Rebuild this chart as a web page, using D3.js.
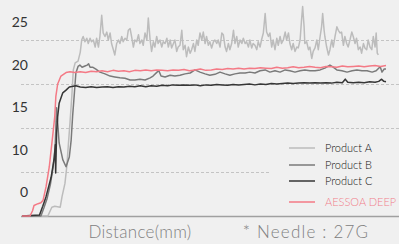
<!DOCTYPE html>
<html>
<head>
<meta charset="utf-8">
<script src="https://cdn.jsdelivr.net/npm/d3@7"></script>
<style>
  html, body { margin: 0; padding: 0; background: #f0f0f0; }
  svg { display: block; font-family: 'Lato', 'Noto Sans', sans-serif; }
</style>
</head>
<body>
<div id="chart"></div>
<script>
// y values are in grid units (one dashed gridline every 5)
const tickLabels = ['0', '10', '15', '20', '25'];
const gridValues = [5, 10, 15, 20];

const seriesNames = ['Product A', 'Product B', 'Product C', 'AESSOA DEEP'];

// [distance (mm), value]
const productA = [
  [0, 0], [7.1, 0], [8.2, 1.0], [9.0, 1.1], [10.5, 1.0], [11.0, 2.2], [11.8, 3.7], [12.3, 5.6],
  [12.7, 7.9], [13.2, 10.7], [13.7, 13.7], [14.1, 16.6], [14.6, 17.4], [15.4, 17.6], [16.0, 18.6],
  [16.4, 20.0], [16.8, 20.4], [17.3, 19.8], [17.8, 20.2], [18.2, 19.6], [18.7, 20.2], [19.1, 19.8],
  [19.6, 20.0], [20.1, 19.2], [20.5, 20.2], [21.0, 19.2], [21.4, 20.4], [21.9, 22.8], [22.3, 20.8],
  [22.8, 20.4], [23.3, 20.9], [23.7, 20.0], [24.2, 20.8], [24.6, 19.6], [25.1, 18.9], [25.5, 18.3],
  [26.0, 19.6], [26.5, 20.0], [26.9, 19.6], [27.4, 20.4], [27.8, 19.8], [28.3, 20.2], [28.8, 20.0],
  [29.2, 21.1], [29.7, 21.3], [30.1, 20.4], [30.6, 19.2], [31.0, 20.0], [31.5, 19.8], [32.0, 20.6],
  [32.4, 19.6], [32.9, 20.0], [33.3, 19.4], [33.8, 20.8], [34.3, 20.0], [34.7, 22.5], [35.2, 20.0],
  [35.6, 18.7], [36.1, 19.8], [36.5, 19.2], [37.0, 20.4], [37.4, 19.6], [37.9, 20.0], [38.4, 19.2],
  [38.8, 19.8], [39.3, 19.6], [39.8, 20.2], [40.2, 19.2], [40.7, 20.0], [41.1, 19.1], [41.6, 19.6],
  [42.0, 20.0], [42.5, 18.7], [42.9, 19.2], [43.4, 19.4], [43.9, 21.1], [44.3, 18.9], [44.8, 19.4],
  [45.2, 18.1], [45.7, 19.2], [46.2, 18.5], [46.6, 18.9], [47.1, 19.6], [47.5, 18.7], [48.0, 20.0],
  [48.4, 19.4], [48.9, 20.8], [49.4, 20.0], [49.8, 20.9], [50.3, 19.6], [50.7, 20.4], [51.2, 19.4],
  [51.6, 19.8], [52.1, 19.1], [52.6, 19.8], [53.0, 20.0], [53.5, 19.6], [53.9, 20.0], [54.4, 19.2],
  [54.9, 20.8], [55.3, 20.6], [55.8, 19.2], [56.2, 18.7], [56.7, 19.6], [57.1, 18.9], [57.6, 19.6],
  [58.1, 21.1], [58.5, 19.6], [59.0, 20.4], [59.4, 19.2], [59.9, 20.0], [60.4, 19.6], [60.8, 20.2],
  [61.3, 19.6], [61.7, 19.8], [62.2, 19.2], [62.6, 20.0], [63.1, 19.1], [63.5, 19.6], [64.0, 19.4],
  [64.5, 18.9], [64.9, 19.8], [65.4, 19.2], [65.8, 20.0], [66.3, 20.8], [66.8, 23.0], [67.2, 20.9],
  [67.7, 20.4], [68.1, 20.8], [68.6, 19.2], [69.0, 20.0], [69.5, 18.9], [70.0, 20.2], [70.4, 19.4],
  [70.9, 20.4], [71.3, 19.6], [71.8, 20.0], [72.3, 20.9], [72.7, 20.0], [73.2, 20.8], [73.6, 19.6],
  [74.1, 18.9], [74.5, 19.6], [75.0, 18.7], [75.5, 19.2], [75.9, 19.1], [76.4, 20.0], [76.8, 22.3],
  [77.1, 23.8], [77.5, 21.5], [77.7, 19.6], [78.2, 19.8], [78.7, 18.9], [79.1, 19.2], [79.6, 17.9],
  [80.0, 18.7], [80.5, 19.1], [81.0, 20.0], [81.4, 18.9], [81.9, 20.4], [82.3, 21.5], [82.6, 23.0],
  [83.0, 21.1], [83.2, 20.4], [83.7, 19.2], [84.2, 18.3], [84.6, 18.9], [85.1, 20.0], [85.5, 19.2],
  [86.0, 20.4], [86.5, 21.5], [86.9, 21.1], [87.4, 20.8], [87.8, 20.9], [88.3, 19.4], [88.7, 20.4],
  [89.2, 19.6], [89.6, 19.2], [90.1, 20.0], [90.6, 20.9], [91.0, 20.4], [91.5, 19.6], [91.9, 20.2],
  [92.4, 18.9], [92.9, 19.2], [93.3, 18.5], [93.8, 19.6], [94.2, 19.1], [94.7, 18.9], [95.1, 20.0],
  [95.6, 19.2], [96.1, 18.9], [96.5, 20.4], [97.0, 19.2], [97.3, 20.8], [97.6, 18.5], [97.9, 18.3]
];

const productB = [
  [0, 0], [5.2, 0], [6.0, 0.9], [6.9, 2.0], [7.8, 3.6], [8.6, 5.7], [9.1, 7.8], [9.3, 10.0],
  [9.5, 12.3], [10.2, 8.3], [11.2, 6.4], [12.1, 5.6], [13.0, 6.7], [13.5, 8.6], [13.9, 11.3],
  [14.4, 14.0], [14.8, 16.25], [15.4, 17.0], [15.9, 17.15], [16.5, 16.9], [17.3, 17.05], [17.9, 17.15],
  [18.3, 17.3], [18.7, 16.9], [19.5, 16.9], [20.3, 16.7], [21.4, 16.35], [22.8, 16.15], [24.2, 15.9],
  [25.5, 15.8], [26.9, 15.7], [28.3, 15.65], [29.7, 15.45], [31.0, 15.45], [32.4, 15.55], [33.8, 15.45],
  [35.2, 15.7], [36.0, 15.9], [37.1, 16.35], [37.6, 16.5], [38.2, 15.9], [39.3, 15.8], [40.7, 16.0],
  [42.0, 15.9], [43.4, 16.0], [44.8, 16.15], [46.2, 16.25], [47.5, 16.6], [48.9, 16.35], [50.3, 16.15],
  [51.6, 16.0], [53.0, 16.1], [54.4, 16.35], [55.8, 16.15], [57.1, 16.0], [58.5, 16.15], [59.9, 16.25],
  [61.3, 16.25], [62.6, 16.35], [64.0, 16.25], [65.4, 16.5], [66.8, 16.6], [68.1, 16.35], [69.5, 16.5],
  [70.9, 16.35], [72.3, 16.6], [73.6, 16.5], [75.0, 16.35], [76.4, 16.5], [77.7, 16.6], [79.1, 16.5],
  [80.5, 16.5], [81.9, 16.6], [83.2, 16.8], [84.6, 17.15], [85.4, 16.95], [86.5, 16.6], [87.9, 16.5],
  [89.3, 16.35], [90.7, 16.5], [92.0, 16.6], [93.4, 16.5], [94.8, 16.5], [96.2, 16.35], [97.3, 16.5],
  [98.4, 16.95], [98.9, 16.35], [99.5, 16.7], [100, 16.7]
];

const productC = [
  [0, 0], [4.8, 0.1], [5.7, 1.1], [6.6, 2.2], [8.0, 4.4], [8.9, 6.7], [9.15, 8.1], [9.25, 4.9],
  [9.4, 7.5], [9.5, 9.4], [9.8, 11.3], [10.2, 12.8], [11.2, 14.0], [12.1, 14.3], [13.0, 14.66],
  [14.8, 14.8], [16, 14.65], [17.5, 14.6], [19, 14.7], [20.5, 14.6], [22, 14.65], [23.5, 14.7],
  [25, 14.6], [26.5, 14.7], [28, 14.65], [29.5, 14.75], [31, 14.7], [32.5, 14.8], [34, 14.7],
  [35.5, 14.8], [37, 14.75], [38.5, 14.85], [40, 14.8], [41.5, 14.9], [43, 14.85], [44.5, 14.9],
  [46, 14.85], [47.5, 14.9], [49, 14.8], [50.5, 14.9], [52, 14.85], [53.5, 14.95], [55, 14.9],
  [56.5, 14.85], [58, 14.95], [59.5, 14.9], [61, 14.95], [62.5, 15.0], [64, 14.9], [65.5, 15.0],
  [67, 14.95], [68.5, 15.05], [70, 15.0], [71.5, 15.05], [73, 15.1], [74.5, 15.05], [76, 15.1],
  [77.5, 15.15], [79, 15.1], [80.5, 15.15], [82, 15.1], [83.5, 15.15], [85, 15.1], [86.5, 15.2],
  [88, 15.15], [88.8, 15.55], [89.5, 15.2], [91, 15.15], [92.5, 15.2], [94, 15.15], [95.5, 15.25],
  [97, 15.2], [98, 15.3], [98.8, 15.55], [99.4, 15.3], [100, 15.25]
];

const aessoaDeep = [
  [0, 0], [2.2, 0], [2.9, 0.6], [3.3, 1.2], [4.4, 1.4], [5.2, 1.5], [5.8, 1.8], [6.6, 3.3],
  [7.5, 5.6], [8.4, 9.0], [9.0, 11.3], [9.3, 13.6], [9.8, 15.0], [10.7, 15.9], [12.1, 16.3],
  [13.2, 16.4], [14.5, 16.3], [16, 16.4], [17.5, 16.3], [19, 16.45], [20.5, 16.4], [22, 16.5],
  [23.5, 16.4], [25, 16.55], [26.5, 16.45], [28, 16.5], [29.5, 16.4], [31, 16.55], [32.5, 16.5],
  [34, 16.6], [35.5, 16.5], [37, 16.6], [38.5, 16.55], [40, 16.5], [41.5, 16.6], [43, 16.55],
  [44.5, 16.65], [46, 16.5], [47.5, 16.6], [49, 16.7], [50.5, 16.55], [52, 16.6], [53.5, 16.7],
  [55, 16.65], [56.5, 16.75], [58, 16.7], [59.5, 16.8], [61, 16.7], [62.5, 16.8], [64, 16.75],
  [65.5, 16.85], [67, 16.8], [68.5, 16.75], [70, 16.9], [71.5, 16.8], [73, 16.85], [74.5, 16.95],
  [76, 16.85], [77.5, 16.9], [79, 17.0], [80.5, 16.9], [82, 16.85], [83.5, 17.0], [85, 16.95],
  [86.5, 16.9], [88, 17.05], [89.5, 16.95], [91, 17.0], [92.5, 17.05], [94, 16.95], [95.5, 17.05],
  [97, 17.1], [98.5, 17.0], [100, 17.1]
];

const render = () => {
  const width = 399;
  const height = 244;
  const colors = ['#bcbcbc', '#7a7a7a', '#363636', '#f47a86'];
  const seriesData = [productA, productB, productC, aessoaDeep];

  const svg = d3
    .select('#chart')
    .append('svg')
    .attr('width', width)
    .attr('height', height);

  svg.append('rect').attr('width', width).attr('height', height).attr('fill', '#f0f0f0');

  const xScale = d3.scaleLinear().domain([0, 100]).range([22, 386]);
  const yScale = d3.scaleLinear().domain([0, 20]).range([216, 40]);
  // tick labels sit above their gridlines, evenly spaced
  const labelScale = d3.scalePoint().domain(tickLabels).range([192, 22]);

  // gridlines
  svg
    .append('g')
    .selectAll('line')
    .data(gridValues)
    .enter()
    .append('line')
    .attr('x1', 21)
    .attr('x2', (d) => (d === 5 ? 271 : width))
    .attr('y1', (d) => yScale(d) + 0.5)
    .attr('y2', (d) => yScale(d) + 0.5)
    .attr('stroke', '#c4c4c4')
    .attr('stroke-width', 1)
    .attr('stroke-dasharray', '3,2');

  // baseline
  svg
    .append('line')
    .attr('x1', 21)
    .attr('x2', width)
    .attr('y1', yScale(0) + 0.5)
    .attr('y2', yScale(0) + 0.5)
    .attr('stroke', '#a0a0a0')
    .attr('stroke-width', 1.3);

  // y labels
  svg
    .append('g')
    .selectAll('text')
    .data(tickLabels)
    .enter()
    .append('text')
    .attr('x', 28)
    .attr('y', (d) => labelScale(d))
    .attr('dy', '0.36em')
    .attr('text-anchor', 'end')
    .attr('font-size', 14)
    .attr('fill', '#333')
    .text((d) => d);

  // lines
  const line = d3
    .line()
    .x((d) => xScale(d[0]))
    .y((d) => yScale(d[1]));

  svg
    .append('g')
    .selectAll('path')
    .data(seriesData)
    .enter()
    .append('path')
    .attr('d', line)
    .attr('fill', 'none')
    .attr('stroke', (d, i) => colors[i])
    .attr('stroke-width', 1.5)
    .attr('stroke-linejoin', 'round');

  // legend
  const legendY = [148, 165, 181, 202];
  const legend = svg
    .append('g')
    .selectAll('g')
    .data(seriesNames)
    .enter()
    .append('g')
    .attr('transform', (d, i) => `translate(289, ${legendY[i]})`);

  legend
    .append('line')
    .attr('x1', 0)
    .attr('x2', 26)
    .attr('stroke', (d, i) => colors[i])
    .attr('stroke-width', 1.5);

  legend
    .append('text')
    .attr('x', 36)
    .attr('dy', '0.36em')
    .attr('font-size', 11)
    .attr('font-weight', 300)
    .attr('fill', (d, i) => (i === 3 ? '#f0808c' : '#111'))
    .text((d) => d);

  // captions
  svg
    .append('text')
    .attr('x', 140)
    .attr('y', 232)
    .attr('dy', '0.36em')
    .attr('text-anchor', 'middle')
    .attr('font-size', 17)
    .attr('font-weight', 300)
    .attr('letter-spacing', 0.3)
    .attr('fill', '#808080')
    .text('Distance(mm)');

  svg
    .append('text')
    .attr('x', 306)
    .attr('y', 232)
    .attr('dy', '0.36em')
    .attr('text-anchor', 'middle')
    .attr('font-size', 17)
    .attr('font-weight', 300)
    .attr('letter-spacing', 1.2)
    .attr('fill', '#808080')
    .text('* Needle : 27G');
};

render();
</script>
</body>
</html>
